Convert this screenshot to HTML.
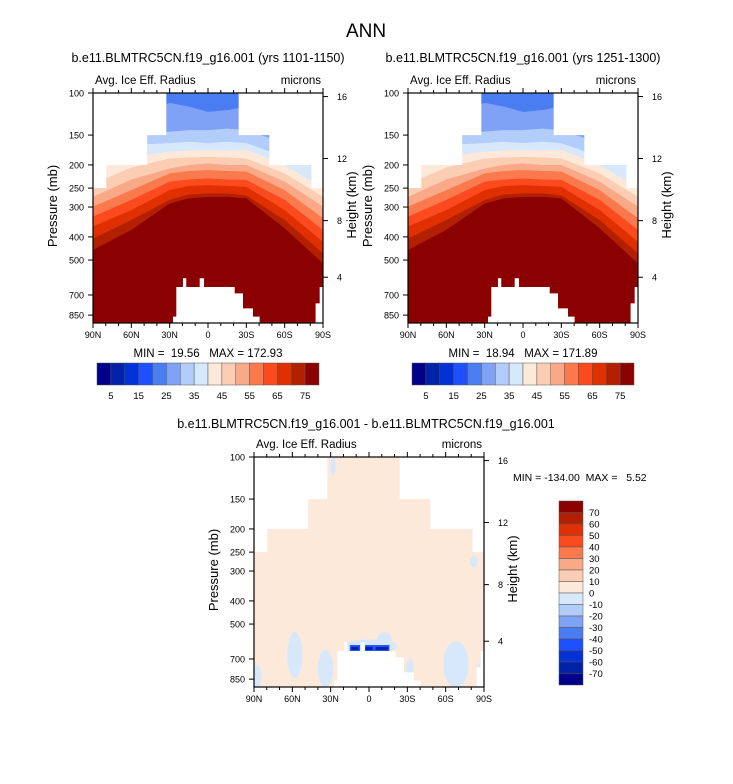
<!DOCTYPE html>
<html><head><meta charset="utf-8"><style>
html,body{margin:0;padding:0;background:#fff;}
svg{display:block;font-family:"Liberation Sans",sans-serif;}
text{white-space:pre;}
</style></head><body>
<svg id="fig" width="733" height="784" xmlns="http://www.w3.org/2000/svg">
<text x="366" y="37" font-size="19" text-anchor="middle">ANN</text>
</svg>
<script>
// ---- data ----
const lats = [90, 60, 30, 15, 0, -15, -30, -60, -90];
const levels = [75, 70, 65, 60, 55, 50, 45, 40, 35, 30, 25];
const levelPressure = [
  [454, 374, 290, 276, 272, 272, 276, 368, 516],
  [406, 340, 280, 266, 263, 263, 268, 340, 469],
  [362, 309, 255, 245, 243, 245, 247, 309, 419],
  [329, 280, 235, 230, 228, 230, 231, 280, 374],
  [299, 255, 217, 212, 210, 212, 213, 255, 334],
  [272, 230, 207, 200, 197, 200, 200, 235, 299],
  [240, 205, 188, 186, 185, 186, 188, 217, 272],
  [210, 185, 176, 174, 173, 174, 173, 200, 250],
  [185, 165, 162, 160, 162, 160, 162, 185, 200],
  [170, 150, 145, 143, 143, 141, 143, 162, 191],
  [140, 125, 110, 114, 120, 118, 114, 130, 150]
];
const binColors = ["#8b0000","#b22000","#e03000","#fa4a1e","#fa7a4e","#f9a888","#fbcdb2","#fde9da","#d8e8fb","#b3cdfa","#7fa2f7","#4a7cf2"];
const topSteps = [[90, 80, 250], [80, 48, 200], [48, 33, 150], [33, -24, 100], [-24, -48, 150], [-48, -81, 200], [-81, -90, 250]];
const terrainLat = [30, 27.4, 27.4, 24.8, 24.8, 19.6, 19.6, 17, 17, 6.5, 6.5, 3.1, 3.1, -20.9, -20.9, -27.4, -27.4, -35.2, -35.2, -40.4, -40.4, -45.6, -45.6];
const terrainP   = [917, 917, 862, 862, 648, 648, 596, 596, 648, 648, 596, 596, 648, 648, 689, 689, 796, 796, 862, 862, 917, 917, 917];
const terrainRLat = [-90, -84.2, -84.2, -87.4, -87.4, -90];
const terrainRP   = [917, 917, 759, 759, 648, 648];
const pTicks = [100, 150, 200, 250, 300, 400, 500, 700, 850];
const hTicks = [16, 12, 8, 4];
const hTickP = [103.5, 188, 342, 590];
const latTicks = [90, 60, 30, 0, -30, -60, -90];
const latLabels = ["90N", "60N", "30N", "0", "30S", "60S", "90S"];
const barColors = ["#00008a","#0022a8","#0032d8","#1e50ff","#4a7cf2","#7fa2f7","#b3cdfa","#d8e8fb","#fde9da","#fbcdb2","#f9a888","#fa7a4e","#fa4a1e","#e03000","#b22000","#8b0000"];
const barLabels = ["5","15","25","35","45","55","65","75"];
const diffLabels = ["70","60","50","40","30","20","10","0","-10","-20","-30","-40","-50","-60","-70"];
// diff patches: lat center, lat half-width, p top, p bottom
const patchLat = [58, 88, 34, -12, -1, -68, -32, -82, -88, 28];
const patchDL  = [6, 4, 6, 6, 21, 10, 3, 3, 4, 2];
const patchPT  = [540, 740, 640, 540, 580, 590, 700, 260, 720, 100];
const patchPB  = [840, 920, 920, 640, 660, 920, 840, 290, 920, 120];
const blobLat = [11, 0, -10];
const blobDL  = [4, 4, 6];
const blobPT  = [612, 612, 612];
const blobPB  = [648, 648, 648];

const NS = "http://www.w3.org/2000/svg";
const svg = document.getElementById("fig");
function mk(tag, attrs, parent) {
  const e = document.createElementNS(NS, tag);
  for (const k in attrs) e.setAttribute(k, attrs[k]);
  (parent || svg).appendChild(e);
  return e;
}
const W = 230, H = 230, SC = 239;
function axes(ox, oy) {
  return {
    x: lat => ox + (90 - lat) / 180 * W,
    y: p => oy + SC * Math.log10(p / 100)
  };
}
function txt(x, y, s, size, anchor, parent, name) {
  const t = mk("text", {x: x, y: y, "font-size": size, "text-anchor": anchor || "start"}, parent);
  t.textContent = s;
  
  
  return t;
}

function masks(g, A, ox, oy) {
  topSteps.forEach(s => {
    const r = mk("rect", {x: A.x(s[0]), y: oy, width: A.x(s[1]) - A.x(s[0]) + 0.5, height: A.y(s[2]) - oy, fill: "#fff"}, g);
    
    
  });
  let pts = terrainLat.map((l, i) => A.x(l) + "," + A.y(terrainP[i])).join(" ");
  const t1 = mk("polygon", {points: pts, fill: "#fff"}, g);
  
  
  pts = terrainRLat.map((l, i) => A.x(l) + "," + A.y(terrainRP[i])).join(" ");
  const t2 = mk("polygon", {points: pts, fill: "#fff"}, g);
  
  
}

function frame(ox, oy, A, sub, name) {
  const g = mk("g", {});
  
  
  mk("rect", {x: ox, y: oy, width: W, height: H, fill: "none", stroke: "#000", "stroke-width": 1.2}, g);
  pTicks.forEach(p => {
    const y = A.y(p);
    mk("line", {x1: ox - 5, x2: ox, y1: y, y2: y, stroke: "#000"}, g);
    txt(ox - 9, y + 3.5, String(p), 9, "end", g, "pressure-tick-label");
  });
  hTicks.forEach((h, i) => {
    const y = A.y(hTickP[i]);
    mk("line", {x1: ox + W, x2: ox + W + 5, y1: y, y2: y, stroke: "#000"}, g);
    txt(ox + W + 14, y + 3.5, String(h), 9, "start", g, "height-tick-label");
  });
  for (let l = 90; l >= -90; l -= 10) {
    const x = A.x(l), len = (l % 30 === 0) ? 5 : 3;
    mk("line", {x1: x, x2: x, y1: oy + H, y2: oy + H + len, stroke: "#000"}, g);
    mk("line", {x1: x, x2: x, y1: oy, y2: oy - len, stroke: "#000"}, g);
  }
  latTicks.forEach((l, i) => txt(A.x(l), oy + H + 15, latLabels[i], 9, "middle", g, "lat-tick-label"));
  txt(ox + 2, oy - 9, "Avg. Ice Eff. Radius", 11.5, "start", g, "variable-label");
  txt(ox + W - 2, oy - 9, "microns", 11.5, "end", g, "units-label");
  const yt = txt(0, 0, "Pressure (mb)", 13, "middle", g, "y-axis-title");
  yt.setAttribute("transform", `translate(${ox - 36},${oy + H / 2 - 2}) rotate(-90)`);
  const ht = txt(0, 0, "Height (km)", 13, "middle", g, "height-axis-title");
  ht.setAttribute("transform", `translate(${ox + W + 33},${oy + H / 2 - 3}) rotate(-90)`);
  if (sub) txt(ox + W / 2, oy - 31, sub, 12.5, "middle", g, "panel-title");
}

function mainPanel(ox, oy, sub, minmax, name) {
  const A = axes(ox, oy);
  const cid = "clip" + ox + "_" + oy;
  const cp = mk("clipPath", {id: cid});
  mk("rect", {x: ox, y: oy, width: W, height: H}, cp);
  const g = mk("g", {"clip-path": "url(#" + cid + ")"});
  
  
  mk("rect", {x: ox, y: oy, width: W, height: H, fill: binColors[0]}, g);
  levels.forEach((lv, k) => {
    const pts = [ox + "," + (oy - 2)];
    lats.forEach((l, i) => pts.push(A.x(l) + "," + A.y(levelPressure[k][i])));
    pts.push((ox + W) + "," + (oy - 2));
    const pg = mk("polygon", {points: pts.join(" "), fill: binColors[k + 1]}, g);
    
    
  });
  masks(g, A, ox, oy);
  frame(ox, oy, A, sub, name);
  txt(ox + W / 2, oy + H + 34, minmax, 11.5, "middle", null, "min-max-label");
  const cb = mk("g", {});
  
  
  const bx = ox + 4, by = 363, bw = 222, bh = 22, n = barColors.length;
  barColors.forEach((c, i) => {
    const r = mk("rect", {x: bx + i * bw / n, y: by, width: bw / n, height: bh, fill: c, stroke: "#555", "stroke-width": 0.5}, cb);
    
    
  });
  barLabels.forEach((s, i) => txt(bx + (1 + 2 * i) * bw / n, by + bh + 14, s, 9.5, "middle", cb, "colorbar-label"));
}

mainPanel(93, 93, "b.e11.BLMTRC5CN.f19_g16.001 (yrs 1101-1150)", "MIN =  19.56   MAX = 172.93", "left-panel");
mainPanel(408, 93, "b.e11.BLMTRC5CN.f19_g16.001 (yrs 1251-1300)", "MIN =  18.94   MAX = 171.89", "right-panel");

(function () {
  const ox = 254, oy = 457;
  const A = axes(ox, oy);
  const cp = mk("clipPath", {id: "clipdiff"});
  mk("rect", {x: ox, y: oy, width: W, height: H}, cp);
  const g = mk("g", {"clip-path": "url(#clipdiff)"});
  
  
  mk("rect", {x: ox, y: oy, width: W, height: H, fill: "#fde9da"}, g);
  patchLat.forEach((l, i) => {
    const x1 = A.x(l - patchDL[i]), x2 = A.x(l + patchDL[i]);
    const y1 = A.y(patchPT[i]), y2 = A.y(patchPB[i]);
    const e = mk("ellipse", {cx: (x1 + x2) / 2, cy: (y1 + y2) / 2, rx: Math.abs(x1 - x2) / 2, ry: (y2 - y1) / 2, fill: "#d8e8fb"}, g);
    
    
  });
  blobLat.forEach((l, i) => {
    const x1 = A.x(l + blobDL[i]), x2 = A.x(l - blobDL[i]);
    const y1 = A.y(blobPT[i]), y2 = A.y(blobPB[i]);
    const r = mk("rect", {x: x1, y: y1, width: x2 - x1, height: y2 - y1, fill: "#1e50ff"}, g);
    
    
    const r2 = mk("rect", {x: x1 + 1.5, y: y1 + 2, width: x2 - x1 - 3, height: y2 - y1 - 3, fill: "#0022a8"}, g);
    
    
  });
  masks(g, A, ox, oy);
  frame(ox, oy, A, null, "diff-panel");
  txt(366, 428, "b.e11.BLMTRC5CN.f19_g16.001 - b.e11.BLMTRC5CN.f19_g16.001", 12.5, "middle", null, "diff-title");
  txt(513, 481, "MIN = -134.00  MAX =   5.52", 10.5, "start", null, "diff-min-max");
  const cb = mk("g", {});
  
  
  const bx = 559, by = 501, bw = 24, bh = 184, n = barColors.length;
  barColors.slice().reverse().forEach((c, i) => {
    const r = mk("rect", {x: bx, y: by + i * bh / n, width: bw, height: bh / n, fill: c, stroke: "#555", "stroke-width": 0.5}, cb);
    
    
  });
  diffLabels.forEach((s, i) => txt(bx + bw + 6, by + (i + 1) * bh / n + 3.5, s, 9.5, "start", cb, "colorbar-label"));
})();
</script>
</body></html>
